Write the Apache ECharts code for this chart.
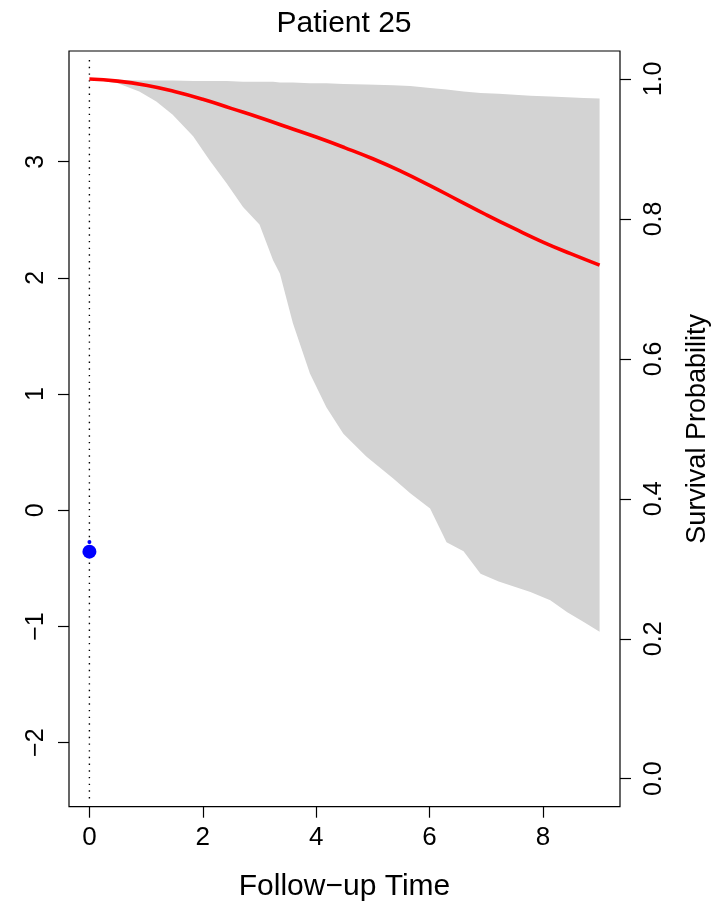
<!DOCTYPE html>
<html>
<head>
<meta charset="utf-8">
<script src="https://cdn.jsdelivr.net/npm/echarts@6/dist/echarts.min.js"></script>
<style>
html,body{margin:0;padding:0;background:#fff;}
#chart{width:715px;height:907px;}
</style>
</head>
<body>
<div id="chart"></div>
<script>
// ---- data ----
const chartTitle = 'Patient 25';
const xAxisTitle = 'Follow\u2212up Time';
const rightAxisTitle = 'Survival Probability';

const xTicks = [0, 2, 4, 6, 8];
const leftTicks = [-2, -1, 0, 1, 2, 3];
const rightTicks = [0.0, 0.2, 0.4, 0.6, 0.8, 1.0];

// longitudinal observations (left axis)
const obsTime = [0, 0];
const obsValue = [-0.356, -0.273];
const obsSize = [14, 4];

// survival curve (right axis)
const survTime = [0, 0.5, 1, 1.5, 2, 2.5, 3, 3.5, 4, 4.5, 5, 5.5, 6, 6.5, 7, 7.5, 8, 8.5, 9];
const survProb = [1.0, 0.997, 0.991, 0.982, 0.971, 0.958, 0.945, 0.931, 0.917, 0.902, 0.886, 0.868, 0.848, 0.827, 0.806, 0.786, 0.767, 0.750, 0.734];

// confidence band (right axis)
const bandTime = [0, 0.5, 0.88, 1.18, 1.47, 1.83, 2.12, 2.42, 2.71, 3.0, 3.24, 3.36, 3.59, 3.89, 4.18, 4.48, 4.89, 5.36, 5.66, 6.01, 6.30, 6.60, 6.90, 7.22, 7.78, 8.13, 8.43, 8.72, 9.0];
const bandLower = [1.0, 0.994, 0.982, 0.968, 0.949, 0.918, 0.884, 0.851, 0.817, 0.792, 0.741, 0.722, 0.651, 0.579, 0.531, 0.493, 0.460, 0.429, 0.408, 0.386, 0.338, 0.325, 0.293, 0.282, 0.267, 0.255, 0.238, 0.224, 0.210];
const bandUpper = [1.0, 0.999, 0.998, 0.998, 0.998, 0.997, 0.997, 0.997, 0.996, 0.996, 0.996, 0.995, 0.995, 0.994, 0.994, 0.993, 0.992, 0.991, 0.990, 0.987, 0.985, 0.982, 0.980, 0.979, 0.976, 0.975, 0.974, 0.973, 0.972];

// ---- chart ----
const FONT = '"Liberation Sans", Arial, Helvetica, sans-serif';
const chart = echarts.init(document.getElementById('chart'), null, {renderer: 'canvas'});

const bandData = bandTime.map((t, i) => [t, bandLower[i], bandUpper[i]]);

const option = {
  backgroundColor: '#ffffff',
  animation: false,
  title: {
    text: chartTitle,
    left: 339,
    top: 4,
    textAlign: 'center',
    textStyle: {fontFamily: FONT, fontSize: 30, fontWeight: 'normal', color: '#000'}
  },
  grid: {
    left: 69, top: 51, width: 551, height: 755.7,
    containLabel: false, outerBoundsMode: 'none',
    show: true, borderColor: '#000', borderWidth: 1.2, backgroundColor: 'transparent'
  },
  xAxis: {
    type: 'value', min: -0.36, max: 9.36,
    name: xAxisTitle, nameLocation: 'middle', nameGap: 65,
    nameTextStyle: {fontFamily: FONT, fontSize: 30, color: '#000'},
    axisLine: {show: false, onZero: false},
    axisTick: {show: true, length: 11, lineStyle: {color: '#000', width: 1.2}, customValues: xTicks},
    axisLabel: {customValues: xTicks, margin: 18, fontFamily: FONT, fontSize: 26, color: '#000'},
    splitLine: {show: false}
  },
  yAxis: [
    {
      type: 'value', min: -2.551, max: 3.953, position: 'left',
      axisLine: {show: false, onZero: false},
      axisTick: {show: true, length: 11, lineStyle: {color: '#000', width: 1.2}, customValues: leftTicks},
      axisLabel: {customValues: leftTicks, rotate: 90, margin: 20, fontFamily: FONT, fontSize: 25, color: '#000',
        formatter: v => (v < 0 ? '\u2212' + Math.abs(v) : String(v))},
      splitLine: {show: false}
    },
    {
      type: 'value', min: -0.04, max: 1.04, position: 'right',
      name: rightAxisTitle, nameLocation: 'middle', nameGap: 64, nameRotate: 90,
      nameTextStyle: {fontFamily: FONT, fontSize: 27, color: '#000'},
      axisLine: {show: false, onZero: false},
      axisTick: {show: true, length: 11, lineStyle: {color: '#000', width: 1.2}, customValues: rightTicks},
      axisLabel: {customValues: rightTicks, rotate: 90, margin: 22, fontFamily: FONT, fontSize: 25, color: '#000',
        formatter: v => v.toFixed(1)},
      splitLine: {show: false}
    }
  ],
  series: [
    {
      type: 'custom',
      name: 'band',
      xAxisIndex: 0, yAxisIndex: 1,
      data: bandData,
      encode: {x: 0, y: [1, 2]},
      silent: true,
      z: 1,
      renderItem: function (params, api) {
        if (params.dataIndex !== 0) return null;
        const pts = [];
        for (let i = 0; i < bandData.length; i++) pts.push(api.coord([bandData[i][0], bandData[i][2]]));
        for (let i = bandData.length - 1; i >= 0; i--) pts.push(api.coord([bandData[i][0], bandData[i][1]]));
        return {type: 'polygon', shape: {points: pts}, style: {fill: '#d3d3d3', stroke: null}};
      }
    },
    {
      type: 'line',
      name: 'zero',
      xAxisIndex: 0, yAxisIndex: 0,
      data: [[0, -2.48], [0, 3.9]],
      symbol: 'none',
      lineStyle: {color: '#000', width: 1.4, type: [1.4, 5.3], cap: 'butt'},
      silent: true,
      z: 2
    },
    {
      type: 'line',
      name: 'survival',
      xAxisIndex: 0, yAxisIndex: 1,
      data: survTime.map((t, i) => [t, survProb[i]]),
      smooth: true,
      symbol: 'none',
      lineStyle: {color: '#ff0000', width: 3.6},
      silent: true,
      z: 3
    },
    {
      type: 'scatter',
      name: 'obs',
      xAxisIndex: 0, yAxisIndex: 0,
      data: obsTime.map((t, i) => [t, obsValue[i]]),
      symbolSize: (v, p) => obsSize[p.dataIndex],
      itemStyle: {color: '#0000ff', opacity: 1},
      silent: true,
      z: 4
    }
  ]
};
chart.setOption(option);
</script>
</body>
</html>
